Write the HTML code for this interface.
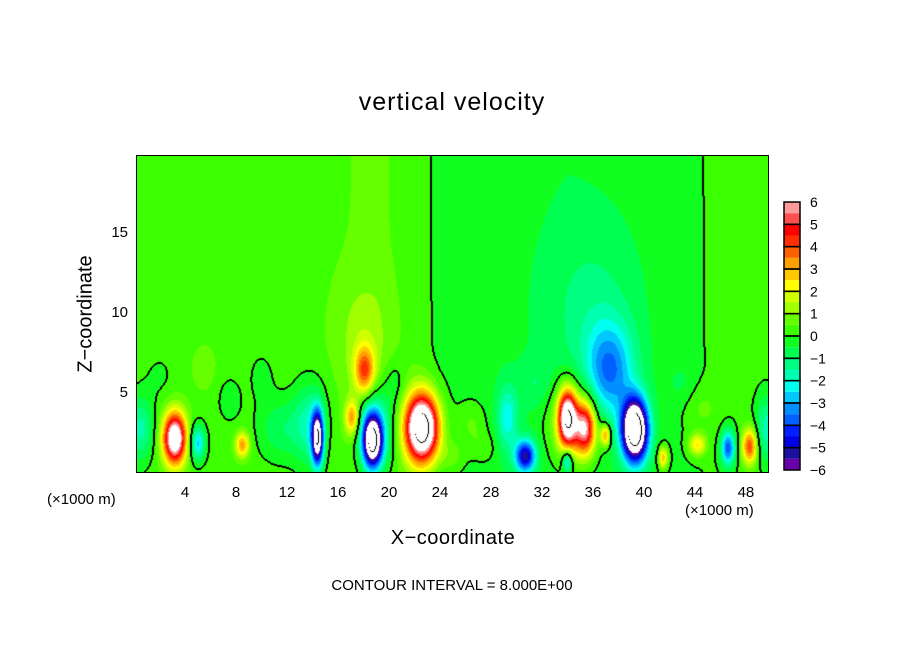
<!DOCTYPE html>
<html><head><meta charset="utf-8"><style>
body{margin:0;background:#fff;}
#wrap{position:relative;width:904px;height:654px;background:#fff;font-family:"Liberation Sans","DejaVu Sans",sans-serif;color:#000;overflow:hidden}
.t{position:absolute;white-space:nowrap}
</style></head><body>
<div id="wrap">
<div class="t" style="left:0;width:904px;text-align:center;top:88px;font-size:25px;letter-spacing:1px">vertical velocity</div>
<div class="t" style="left:86px;top:314px;font-size:20px;transform:translate(-50%,-50%) rotate(-90deg)">Z−coordinate</div>
<div class="t" style="left:0;width:904px;text-align:center;top:527px;font-size:20px;letter-spacing:.5px;padding-left:1px">X−coordinate</div>
<div class="t" style="left:0;width:904px;text-align:center;top:577px;font-size:15px">CONTOUR INTERVAL = 8.000E+00</div>
<div class="t" style="left:47px;top:491px;font-size:15px">(×1000 m)</div>
<div class="t" style="left:685px;top:502px;font-size:15px">(×1000 m)</div>
<svg id="svg" width="904" height="654" style="position:absolute;left:0;top:0"></svg>
<canvas id="cv" width="631" height="316" style="position:absolute;left:137px;top:156px"></canvas>
</div>
<script>
// data
const xTicks=[4,8,12,16,20,24,28,32,36,40,44,48];
const zTicks=[5,10,15];
const cbLabels=[6,5,4,3,2,1,0,-1,-2,-3,-4,-5,-6];
const bandColors=['#6a00a8','#1a10a0','#0000e0','#0020ff','#0060ff','#0090ff','#00c8ff','#00ffee','#00ffb0','#00ff80','#00ff50','#10ff20','#3cff00','#66ff00','#a0ff00','#d0ff00','#ffff00','#ffc800','#ffa000','#ff6000','#ff3000','#ff0000','#ff5050','#ff9a9a'];
const baseX=[0,10,16,19,22,24,28,34,40,44,46,50];
const baseV=[0.3,0.3,0.45,0.6,0.3,-0.15,-0.35,-0.45,-0.3,-0.05,0.1,0.2];
const blobX=[3.2,5.0,0.5,8.5,14.4,13.8,17.1,18.1,18.0,18.7,18.9,22.6,30.7,29.3,34.0,35.4,34.5,37.0,34.0,39.3,37.3,36.0,41.5,44.2,46.6,48.3,49.6,11.5,7.5,10.0,5.5,26.5,27.5,31.5,44.5,43.0,20.5,2.0,25.0];
const blobZ=[2.1,1.8,2.7,1.7,2.1,3.0,3.4,6.3,8.5,1.9,2.6,2.75,1.0,3.4,3.4,2.75,3.0,2.3,0.7,2.6,6.3,10.0,0.9,1.7,1.5,1.6,2.7,2.7,4.5,6.0,6.5,3.0,1.5,5.5,4.0,5.5,5.5,6.0,1.0];
const blobA=[7.5,-3,-2,3,-7.5,-2,3,3.5,0.8,-7.5,-3,9.5,-5,-2,7,5,2.5,3.5,-3,-10,-3,-0.8,3,2.5,-4,4,-2,-1.2,-0.6,-0.5,0.5,0.8,0.6,-0.6,0.6,-0.5,-0.7,-0.4,0.8];
const blobSX=[0.9,0.6,1.0,0.55,0.45,1.3,0.55,0.8,2.0,0.75,1.3,1.3,0.8,0.8,0.7,0.8,1.9,0.4,0.4,1.0,1.9,3.5,0.4,0.7,0.55,0.6,0.8,1.8,1.0,1.0,1.0,1.2,1.0,1.2,1.5,1.2,0.8,1.2,1.0];
const blobSZ=[1.6,1.1,2.0,0.8,1.7,2.6,1.1,1.5,3.5,1.6,2.6,2.1,1.0,2.0,1.7,1.6,2.6,0.7,0.7,1.9,3.0,5.5,0.7,0.7,1.1,1.1,2.0,2.0,1.5,1.5,1.5,1.5,1.0,1.5,1.5,1.5,1.5,1.5,1.0];

const X0=137,W=631,Y0=156,H=316;
const xMin=0.235,xMax=49.73,zMin=0,zMax=19.75;
const sx=v=>X0+(v-xMin)/(xMax-xMin)*W;
const sz=v=>Y0+H-(v-zMin)/(zMax-zMin)*H;
function base(x){for(let i=0;i<baseX.length-1;i++){if(x<=baseX[i+1]){const t=(x-baseX[i])/(baseX[i+1]-baseX[i]);return baseV[i]+t*(baseV[i+1]-baseV[i]);}}return baseV[baseV.length-1];}
function field(x,z){let v=base(x);for(let i=0;i<blobX.length;i++){const dx=(x-blobX[i])/blobSX[i],dz=(z-blobZ[i])/blobSZ[i];const d=dx*dx+dz*dz;if(d<20)v+=blobA[i]*Math.exp(-d);}return v;}
const cv=document.getElementById('cv'),ctx=cv.getContext('2d');
const img=ctx.createImageData(W,H);const vals=new Float32Array(W*H);
for(let j=0;j<H;j++)for(let i=0;i<W;i++){const x=xMin+(i+0.5)/W*(xMax-xMin),z=zMax-(j+0.5)/H*(zMax-zMin);vals[j*W+i]=field(x,z);}
function hex(c){return [parseInt(c.substr(1,2),16),parseInt(c.substr(3,2),16),parseInt(c.substr(5,2),16)];}
const rgb=bandColors.map(hex);
for(let k=0;k<W*H;k++){const v=vals[k];let c;if(v>=6||v<=-6)c=[255,255,255];else c=rgb[Math.floor((v+6)/0.5)];
 const i=k%W,j=(k-i)/W;let line=false;
 if(i<W-1&&(vals[k]>0)!==(vals[k+1]>0))line=true;
 if(j<H-1&&(vals[k]>0)!==(vals[k+W]>0))line=true;
 if(i>0&&(vals[k]>0)!==(vals[k-1]>0))line=true;
 if(j>0&&(vals[k]>0)!==(vals[k-W]>0))line=true;
 if(Math.abs(v)>8&&((i<W-1&&Math.abs(vals[k+1])<=8)||(j<H-1&&Math.abs(vals[k+W])<=8)))line=true;
 if(line)c=[0,0,0];
 img.data[k*4]=c[0];img.data[k*4+1]=c[1];img.data[k*4+2]=c[2];img.data[k*4+3]=255;}
ctx.putImageData(img,0,0);

const svg=document.getElementById('svg');const NS='http://www.w3.org/2000/svg';
function mk(t,a,p){const e=document.createElementNS(NS,t);for(const k in a)e.setAttribute(k,a[k]);(p||svg).appendChild(e);return e;}
let e=mk('rect',{x:X0,y:Y0,width:W,height:H,fill:'none',stroke:'#000','stroke-width':2});

for(let v=1;v<50;v++){const x=sx(v);const L=v%4===0?9:5;
 mk('line',{x1:x,x2:x,y1:Y0+H,y2:Y0+H-L,stroke:'#000','stroke-width':1.5});
 mk('line',{x1:x,x2:x,y1:Y0,y2:Y0+L,stroke:'#000','stroke-width':1.5});}
for(let v=1;v<20;v++){const y=sz(v);const L=v%5===0?9:5;
 mk('line',{x1:X0,x2:X0+L,y1:y,y2:y,stroke:'#000','stroke-width':1.5});
 mk('line',{x1:X0+W,x2:X0+W-L,y1:y,y2:y,stroke:'#000','stroke-width':1.5});}
xTicks.forEach(v=>{const t=mk('text',{x:sx(v),y:497,'text-anchor':'middle','font-size':15,'font-family':'Liberation Sans, sans-serif'});t.textContent=v;
 });
zTicks.forEach(v=>{const t=mk('text',{x:128,y:sz(v)+5,'text-anchor':'end','font-size':15,'font-family':'Liberation Sans, sans-serif'});t.textContent=v;
 });
// colorbar
const cbX=784,cbW=16,cbTop=202,cbBot=470;const cbs=v=>cbBot-(v+6)/12*(cbBot-cbTop);
bandColors.forEach((c,i)=>{const v0=-6+i*0.5;const r=mk('rect',{x:cbX,y:cbs(v0+0.5),width:cbW,height:cbs(v0)-cbs(v0+0.5),fill:c});
 });
for(let i=0;i<12;i++){mk('rect',{x:cbX,y:cbs(-5+i),width:cbW,height:cbs(-6+i)-cbs(-5+i),fill:'none',stroke:'#000','stroke-width':1.5});}
cbLabels.forEach(v=>{const t=mk('text',{x:810,y:cbs(v)+5,'font-size':14,'font-family':'Liberation Sans, sans-serif'});t.textContent=(v<0?'−'+(-v):v);
 });
// contour labels
[[206,403,-70],[295,355,0],[452,410,-75],[680,290,-60]].forEach(p=>{const t=mk('text',{x:p[0],y:p[1],'font-size':14,'font-family':'Liberation Sans, sans-serif','text-anchor':'middle',transform:`rotate(${p[2]} ${p[0]} ${p[1]})`});t.textContent='0.00';
 });
</script>
</body></html>
